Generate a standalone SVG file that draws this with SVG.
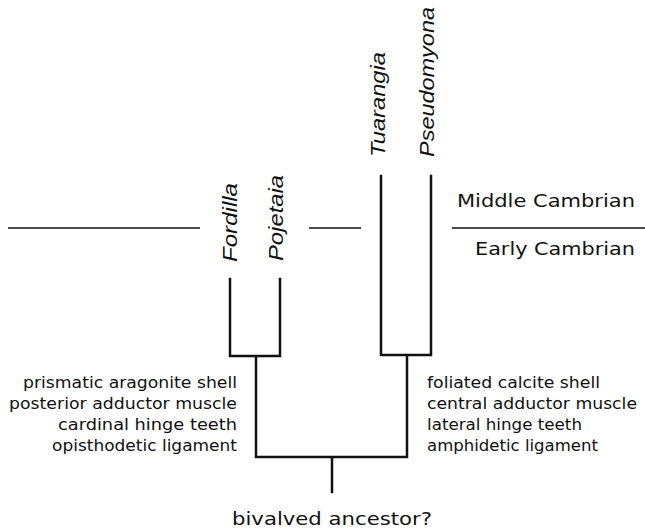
<svg xmlns="http://www.w3.org/2000/svg" width="645" height="532" viewBox="0 0 645 532">
<style>
.ln{stroke:#111;stroke-width:2.5;fill:none;stroke-linecap:square}
.tl{stroke:#111;stroke-width:1.6;fill:none}
.tx{font-family:"Liberation Sans",Arial,sans-serif;font-style:italic;font-size:19.5px;fill:#111}
.tr{font-family:"DejaVu Sans","Liberation Sans",sans-serif;font-size:15.5px;fill:#111}
.lb{font-family:"DejaVu Sans","Liberation Sans",sans-serif;font-size:18px;fill:#111}
</style>
<rect width="645" height="532" fill="#fff"/>
<g id="connectors">
<path class="tl" d="M8 228H200M309 228H361M452 228H645"/>
<path class="ln" d="M230 279V356H280V279M256 356V457M381 176V355H431V176M407 355V457M256 457H407M332 457V492"/>
</g>
<g id="fordilla"><text class="tx" transform="translate(237,262) rotate(-90)" textLength="79" lengthAdjust="spacingAndGlyphs">Fordilla</text></g>
<g id="pojetaia"><text class="tx" transform="translate(283,261) rotate(-90)" textLength="86" lengthAdjust="spacingAndGlyphs">Pojetaia</text></g>
<g id="tuarangia"><text class="tx" transform="translate(385,157) rotate(-90)" textLength="105" lengthAdjust="spacingAndGlyphs">Tuarangia</text></g>
<g id="pseudomyona"><text class="tx" transform="translate(434,157) rotate(-90)" textLength="150" lengthAdjust="spacingAndGlyphs">Pseudomyona</text></g>
<g id="periods">
<text class="lb" x="457" y="207" textLength="178" lengthAdjust="spacingAndGlyphs">Middle Cambrian</text>
<text class="lb" x="475" y="255" textLength="160" lengthAdjust="spacingAndGlyphs">Early Cambrian</text>
</g>
<g id="left-traits">
<text class="tr" x="23" y="388" textLength="214" lengthAdjust="spacingAndGlyphs">prismatic aragonite shell</text>
<text class="tr" x="9" y="409" textLength="228" lengthAdjust="spacingAndGlyphs">posterior adductor muscle</text>
<text class="tr" x="58" y="430" textLength="179" lengthAdjust="spacingAndGlyphs">cardinal hinge teeth</text>
<text class="tr" x="52" y="451" textLength="185" lengthAdjust="spacingAndGlyphs">opisthodetic ligament</text>
</g>
<g id="right-traits">
<text class="tr" x="427" y="388" textLength="173" lengthAdjust="spacingAndGlyphs">foliated calcite shell</text>
<text class="tr" x="427" y="409" textLength="210" lengthAdjust="spacingAndGlyphs">central adductor muscle</text>
<text class="tr" x="427" y="430" textLength="155" lengthAdjust="spacingAndGlyphs">lateral hinge teeth</text>
<text class="tr" x="427" y="451" textLength="171" lengthAdjust="spacingAndGlyphs">amphidetic ligament</text>
</g>
<g id="ancestor"><text class="lb" x="232" y="525" textLength="200" lengthAdjust="spacingAndGlyphs">bivalved ancestor?</text></g>
</svg>
